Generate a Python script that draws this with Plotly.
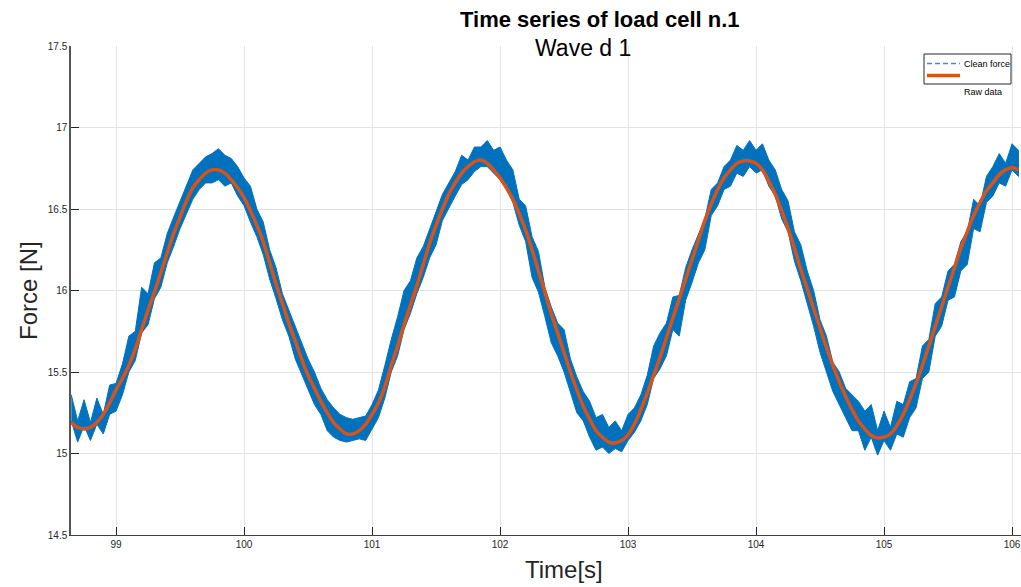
import plotly.graph_objects as go

# ---------------- data ----------------
time_s = [
    98.65, 98.70, 98.75, 98.80, 98.85, 98.90, 98.95, 99.00, 99.05, 99.10,
    99.15, 99.20, 99.25, 99.30, 99.35, 99.40, 99.45, 99.50, 99.55, 99.60,
    99.65, 99.70, 99.75, 99.80, 99.85, 99.90, 99.95, 100.00, 100.05, 100.10,
    100.15, 100.20, 100.25, 100.30, 100.35, 100.40, 100.45, 100.50, 100.55, 100.60,
    100.65, 100.70, 100.75, 100.80, 100.85, 100.90, 100.95, 101.00, 101.05, 101.10,
    101.15, 101.20, 101.25, 101.30, 101.35, 101.40, 101.45, 101.50, 101.55, 101.60,
    101.65, 101.70, 101.75, 101.80, 101.85, 101.90, 101.95, 102.00, 102.05, 102.10,
    102.15, 102.20, 102.25, 102.30, 102.35, 102.40, 102.45, 102.50, 102.55, 102.60,
    102.65, 102.70, 102.75, 102.80, 102.85, 102.90, 102.95, 103.00, 103.05, 103.10,
    103.15, 103.20, 103.25, 103.30, 103.35, 103.40, 103.45, 103.50, 103.55, 103.60,
    103.65, 103.70, 103.75, 103.80, 103.85, 103.90, 103.95, 104.00, 104.05, 104.10,
    104.15, 104.20, 104.25, 104.30, 104.35, 104.40, 104.45, 104.50, 104.55, 104.60,
    104.65, 104.70, 104.75, 104.80, 104.85, 104.90, 104.95, 105.00, 105.05, 105.10,
    105.15, 105.20, 105.25, 105.30, 105.35, 105.40, 105.45, 105.50, 105.55, 105.60,
    105.65, 105.70, 105.75, 105.80, 105.85, 105.90, 105.95, 106.00, 106.05,
]

# noisy signal (blue): upper and lower edge of the band
noisy_hi = [
    15.36, 15.20, 15.33, 15.19, 15.34, 15.24, 15.42, 15.43, 15.55, 15.72,
    15.75, 16.02, 15.98, 16.17, 16.20, 16.35, 16.45, 16.55, 16.64, 16.74,
    16.78, 16.82, 16.84, 16.87, 16.83, 16.81, 16.76, 16.69, 16.64, 16.50,
    16.42, 16.25, 16.14, 15.98, 15.88, 15.78, 15.68, 15.58, 15.50, 15.40,
    15.33, 15.28, 15.24, 15.22, 15.21, 15.22, 15.23, 15.30, 15.39, 15.54,
    15.70, 15.84, 16.00, 16.06, 16.20, 16.27, 16.38, 16.48, 16.59, 16.66,
    16.73, 16.83, 16.80, 16.88, 16.88, 16.92, 16.86, 16.88, 16.80, 16.74,
    16.56, 16.52, 16.33, 16.24, 16.02, 15.90, 15.80, 15.76, 15.58, 15.47,
    15.38, 15.32, 15.22, 15.24, 15.16, 15.20, 15.14, 15.24, 15.28, 15.36,
    15.48, 15.66, 15.74, 15.80, 15.96, 15.97, 16.14, 16.25, 16.35, 16.44,
    16.62, 16.66, 16.76, 16.80, 16.89, 16.86, 16.92, 16.86, 16.90, 16.80,
    16.74, 16.62, 16.55, 16.36, 16.28, 16.12, 16.00, 15.82, 15.72, 15.56,
    15.50, 15.40, 15.36, 15.32, 15.26, 15.30, 15.14, 15.26, 15.16, 15.32,
    15.30, 15.44, 15.46, 15.66, 15.70, 15.92, 15.96, 16.12, 16.16, 16.30,
    16.36, 16.56, 16.52, 16.70, 16.76, 16.84, 16.78, 16.90, 16.86,
]
noisy_lo = [
    15.20, 15.07, 15.17, 15.08, 15.18, 15.12, 15.24, 15.26, 15.36, 15.50,
    15.57, 15.74, 15.79, 15.95, 16.02, 16.17, 16.27, 16.38, 16.47, 16.56,
    16.62, 16.66, 16.66, 16.68, 16.64, 16.66, 16.58, 16.52, 16.42, 16.33,
    16.22, 16.07, 15.95, 15.82, 15.72, 15.58, 15.48, 15.39, 15.30, 15.24,
    15.14, 15.10, 15.08, 15.07, 15.08, 15.09, 15.08, 15.15, 15.22, 15.34,
    15.50, 15.60, 15.76, 15.86, 15.98, 16.08, 16.20, 16.28, 16.43, 16.50,
    16.58, 16.65, 16.68, 16.73, 16.76, 16.76, 16.72, 16.68, 16.62, 16.54,
    16.40, 16.30, 16.08, 15.99, 15.84, 15.68, 15.60, 15.50, 15.38, 15.25,
    15.20, 15.10, 15.02, 15.04, 15.00, 15.03, 15.01, 15.08, 15.13, 15.20,
    15.30, 15.46, 15.52, 15.60, 15.76, 15.72, 15.94, 16.05, 16.17, 16.25,
    16.46, 16.52, 16.62, 16.64, 16.72, 16.70, 16.76, 16.72, 16.74, 16.64,
    16.58, 16.44, 16.36, 16.18, 16.06, 15.92, 15.78, 15.62, 15.50, 15.38,
    15.30, 15.22, 15.14, 15.14, 15.02, 15.10, 14.99, 15.08, 15.02, 15.12,
    15.10, 15.22, 15.28, 15.46, 15.50, 15.72, 15.78, 15.94, 15.96, 16.12,
    16.16, 16.38, 16.36, 16.54, 16.58, 16.66, 16.64, 16.74, 16.70,
]

# smooth signal (orange)
smooth = [
    15.19, 15.16, 15.15, 15.16, 15.19, 15.24, 15.31, 15.39, 15.46, 15.54,
    15.64, 15.76, 15.88, 15.99, 16.11, 16.23, 16.35, 16.45, 16.55, 16.63,
    16.68, 16.72, 16.74, 16.74, 16.72, 16.68, 16.63, 16.57, 16.49, 16.40,
    16.30, 16.17, 16.04, 15.92, 15.80, 15.69, 15.58, 15.48, 15.40, 15.32,
    15.25, 15.19, 15.15, 15.12, 15.12, 15.14, 15.18, 15.24, 15.31, 15.41,
    15.54, 15.66, 15.79, 15.91, 16.03, 16.16, 16.29, 16.40, 16.50, 16.59,
    16.66, 16.72, 16.76, 16.79, 16.80, 16.78, 16.74, 16.69, 16.63, 16.56,
    16.47, 16.37, 16.25, 16.12, 15.99, 15.86, 15.74, 15.62, 15.50, 15.39,
    15.29, 15.21, 15.14, 15.10, 15.07, 15.065, 15.08, 15.115, 15.18, 15.27,
    15.37, 15.48, 15.59, 15.71, 15.83, 15.95, 16.07, 16.19, 16.31, 16.43,
    16.53, 16.62, 16.69, 16.74, 16.78, 16.795, 16.795, 16.78, 16.74, 16.67,
    16.59, 16.49, 16.38, 16.26, 16.13, 16.01, 15.89, 15.77, 15.65, 15.54,
    15.44, 15.35, 15.27, 15.20, 15.15, 15.11, 15.095, 15.10, 15.12, 15.17,
    15.24, 15.33, 15.43, 15.54, 15.66, 15.78, 15.90, 16.02, 16.14, 16.26,
    16.36, 16.46, 16.54, 16.61, 16.66, 16.71, 16.74, 16.755, 16.74,
]

x_ticks = [99, 100, 101, 102, 103, 104, 105, 106]
y_ticks = [14.5, 15, 15.5, 16, 16.5, 17, 17.5]
legend_labels = ["Clean force", "Raw data"]

# ---------------- layout geometry (pixels) ----------------
W, H = 1021, 587
L, R, T, B = 71, 0, 46, 52
PW, PH = W - L - R, H - T - B
FONT = "Liberation Sans, Arial, Helvetica, sans-serif"
BLUE = "#0072BD"
ORANGE = "#D95319"


def px(x):
    return (x - L) / PW


def py(y):
    return (H - B - y) / PH


fig = go.Figure()
fig.add_trace(go.Scatter(
    x=time_s + time_s[::-1], y=noisy_hi + noisy_lo[::-1],
    fill="toself", fillcolor=BLUE, mode="lines",
    line=dict(color=BLUE, width=1), hoverinfo="skip", showlegend=False))
fig.add_trace(go.Scatter(
    x=time_s, y=smooth, mode="lines",
    line=dict(color=ORANGE, width=3.5, shape="spline"), showlegend=False))

fig.update_layout(
    width=W, height=H,
    margin=dict(l=L, r=R, t=T, b=B, pad=0),
    paper_bgcolor="white", plot_bgcolor="white",
    font=dict(family=FONT, color="#262626"),
    showlegend=False,
    xaxis=dict(range=[98.648, 106.07], tickvals=x_ticks, ticks="inside",
               ticklen=8, tickcolor="#262626", showgrid=True,
               gridcolor="#e3e3e3", gridwidth=1, zeroline=False,
               showline=True, linecolor="#404040", linewidth=1,
               tickfont=dict(size=10, color="#262626")),
    yaxis=dict(range=[14.5, 17.5], tickvals=y_ticks, ticks="inside",
               ticklen=8, tickcolor="#262626", showgrid=True,
               gridcolor="#e3e3e3", gridwidth=1, zeroline=False,
               showline=True, linecolor="#555555", linewidth=1.5,
               tickfont=dict(size=10, color="#262626")),
)

ann = [
    dict(text="<b>Time series of load cell n.1</b>", x=px(600), y=py(19),
         font=dict(size=22, color="black")),
    dict(text="Wave d 1", x=px(583), y=py(48), font=dict(size=23, color="black")),
    dict(text="Time[s]", x=px(564), y=py(569), font=dict(size=24, color="#262626")),
    dict(text="Force [N]", x=px(28), y=py(291), textangle=-90,
         font=dict(size=24, color="#262626")),
    dict(text=legend_labels[0], x=px(962), y=py(64), xanchor="left",
         font=dict(size=9, color="black")),
    dict(text=legend_labels[1], x=px(962), y=py(92), xanchor="left",
         font=dict(size=9, color="black")),
]
for a in ann:
    a.setdefault("xanchor", "center")
    fig.add_annotation(xref="paper", yref="paper", showarrow=False,
                       yanchor="middle", **a)

fig.add_shape(type="rect", xref="paper", yref="paper",
              x0=px(924), x1=px(1011), y0=py(54), y1=py(84),
              line=dict(color="#262626", width=1), fillcolor="white", layer="above")
fig.add_shape(type="line", xref="paper", yref="paper",
              x0=px(927), x1=px(960), y0=py(63.5), y1=py(63.5),
              line=dict(color="#3A8FD6", width=1.3, dash="5px,3px"), layer="above")
fig.add_shape(type="line", xref="paper", yref="paper",
              x0=px(927), x1=px(960), y0=py(75.5), y1=py(75.5),
              line=dict(color=ORANGE, width=3.5), layer="above")

fig.write_html("out.html")
